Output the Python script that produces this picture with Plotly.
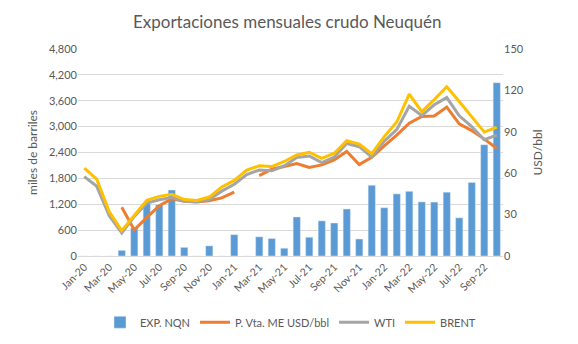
import plotly.graph_objects as go

months = ["Jan-20","Feb-20","Mar-20","Apr-20","May-20","Jun-20","Jul-20","Aug-20","Sep-20","Oct-20","Nov-20","Dec-20",
          "Jan-21","Feb-21","Mar-21","Apr-21","May-21","Jun-21","Jul-21","Aug-21","Sep-21","Oct-21","Nov-21","Dec-21",
          "Jan-22","Feb-22","Mar-22","Apr-22","May-22","Jun-22","Jul-22","Aug-22","Sep-22","Oct-22"]

exp_nqn = [0, 0, 0, 130, 650, 1220, 1190, 1530, 200, 0, 235, 0,
           495, 0, 445, 405, 180, 905, 435, 815, 765, 1090, 395, 1640,
           1120, 1440, 1500, 1255, 1250, 1480, 885, 1705, 2580, 4020]

p_vta = [None, None, None, 35.3, 18.9, 27.8, 36.5, 41.4, 39.7, 39.2, 40.1, 42.1,
         46.2, None, 58.3, 62.9, 64.8, 67.0, 64.1, 66.0, 69.7, 75.7, 66.3, 71.6,
         79.8, 87.6, 96.3, 101.1, 101.4, 107.9, 95.8, 90.9, 84.7, 78.1]

wti = [57.5, 50.5, 29.2, 16.6, 28.6, 38.3, 40.7, 42.3, 39.6, 39.4, 40.9, 47.0,
       52.0, 59.0, 62.3, 61.7, 65.2, 71.4, 72.5, 67.7, 71.7, 81.5, 79.2, 71.7,
       83.2, 91.6, 108.5, 101.8, 109.6, 114.8, 101.6, 93.7, 84.3, 87.6]

brent = [63.7, 55.7, 32.0, 18.4, 29.4, 40.3, 43.2, 44.7, 40.9, 40.2, 42.7, 50.0,
         54.8, 62.3, 65.4, 64.8, 68.5, 73.2, 75.2, 70.8, 74.5, 83.5, 81.1, 74.2,
         86.5, 97.1, 117.3, 104.6, 113.3, 122.7, 111.9, 100.5, 89.8, 93.3]

left_ticks = [0, 600, 1200, 1800, 2400, 3000, 3600, 4200, 4800]
right_ticks = [0, 30, 60, 90, 120, 150]

FONT = "Lato"
TXT = "#595959"

fig = go.Figure()
fig.add_trace(go.Bar(x=months, y=exp_nqn, name="EXP. NQN", marker_color="#5B9BD5", yaxis="y"))
fig.add_trace(go.Scatter(x=months, y=p_vta, name="P. Vta. ME USD/bbl", mode="lines",
                         line=dict(color="#ED7D31", width=3), connectgaps=False, yaxis="y2"))
fig.add_trace(go.Scatter(x=months, y=wti, name="WTI", mode="lines",
                         line=dict(color="#A5A5A5", width=3), yaxis="y2"))
fig.add_trace(go.Scatter(x=months, y=brent, name="BRENT", mode="lines",
                         line=dict(color="#FFC000", width=3), yaxis="y2"))

fig.update_layout(
    width=578, height=344,
    margin=dict(l=78, r=75, t=49, b=88, autoexpand=False),
    paper_bgcolor="white", plot_bgcolor="white",
    font=dict(family=FONT, color=TXT, size=11),
    title=dict(text="Exportaciones mensuales crudo Neuquén", x=0.497, xanchor="center",
               y=0.936, yanchor="middle", font=dict(size=17, color=TXT, family=FONT)),
    bargap=0.42,
    showlegend=True,
    legend=dict(orientation="h", x=0.5, xanchor="center", y=-0.32, yanchor="middle",
                font=dict(size=11, color=TXT), itemwidth=30, tracegroupgap=0),
    xaxis=dict(type="category", tickmode="array", tickvals=months[::2], ticktext=months[::2],
               tickangle=-45, showgrid=False, showline=True, linecolor="#D9D9D9",
               ticks="", tickfont=dict(size=10.5, color=TXT), automargin=False),
    yaxis=dict(range=[0, 4800], tickvals=left_ticks, ticktext=[f"{v:,}" for v in left_ticks],
               showgrid=True, gridcolor="#D9D9D9", gridwidth=1, zeroline=False, automargin=False,
               title=dict(text="miles de barriles", font=dict(size=12, color=TXT), standoff=8),
               tickfont=dict(size=11, color=TXT)),
    yaxis2=dict(range=[0, 150], tickvals=right_ticks, overlaying="y", side="right",
                showgrid=False, zeroline=False, automargin=False,
                title=dict(text="USD/bbl", font=dict(size=12, color=TXT), standoff=10),
                tickfont=dict(size=11, color=TXT)),
)

fig.write_html("out.html")
